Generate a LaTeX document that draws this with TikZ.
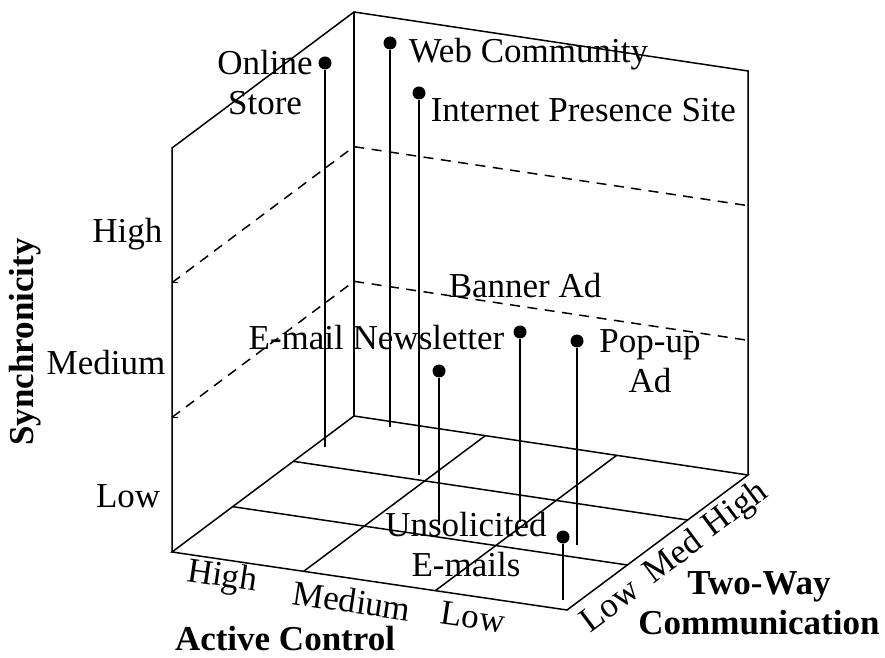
\documentclass[tikz,border=0pt]{standalone}
\usepackage{fontspec}
\setmainfont{Liberation Serif}
\usetikzlibrary{calc}
\begin{document}
\begin{tikzpicture}[x=0.4pt, y=-0.4pt, line width=0.6pt,
	every node/.style={font=\fontsize{14}{16}\selectfont, inner sep=0pt},
	pindot/.style={circle,fill,minimum size=5.2pt,inner sep=0pt},
	axistitle/.style={font=\fontsize{14}{16}\selectfont\bfseries, align=center}]
	\useasboundingbox (0,0) rectangle (885,658);
	% corners of the box (floor and top)
	\coordinate (A) at (172,552); \coordinate (B) at (567,610);
	\coordinate (C) at (748,475); \coordinate (D) at (354,416);
	\coordinate (At) at (172,148); \coordinate (Dt) at (354,12); \coordinate (Ct) at (748,71);
	\draw (A) -- (B) -- (C) -- (D) -- cycle;
	\draw (A) -- (At) -- (Dt) -- (Ct) -- (C);
	\draw (D) -- (Dt);
	% floor grid
	\foreach \t in {1/3,2/3} {
		\draw ($(A)!\t!(D)$) -- ($(B)!\t!(C)$);
		\draw ($(A)!\t!(B)$) -- ($(D)!\t!(C)$);
		\draw [dash pattern=on 4pt off 3pt] ($(A)!\t!(At)$) -- ($(D)!\t!(Dt)$) -- ($(C)!\t!(Ct)$);
		\draw ($(A)!\t!(At)$) -- ++(6,0);
	}
	% pins
	\foreach \name/\px/\by/\ty in {online/325/447/63, web/390/427/43, internet/419/475/93,
		newsletter/439/525/371, banner/520/522/332, popup/577/545/341, unsolicited/563/600/537} {
		\coordinate (\name base) at (\px,\by);
		\node [pindot] (\name dot) at (\px,\ty) {};
		\draw (\name base) -- (\name dot);
	}
	\node [align=center] (online label) at (265,83) {Online\\Store};
	\node [anchor=base west] (web label) at (408,63) {Web Community};
	\node [anchor=base west] (internet label) at (430,122) {Internet Presence Site};
	\node [anchor=base east] (newsletter label) at (505,350) {E-mail Newsletter};
	\node [anchor=base west] (banner label) at (448,298) {Banner Ad};
	\node [align=center] (popup label) at (650,361) {Pop-up\\Ad};
	\node [align=center] (unsolicited label) at (466,545) {Unsolicited\\E-mails};
	% synchronicity axis
	\node [anchor=base east] (sync high) at (163,243) {High};
	\node [anchor=base east] (sync med) at (166,375) {Medium};
	\node [anchor=base east] (sync low) at (161,507) {Low};
	\node [axistitle, rotate=90] (sync title) at (25,342) {Synchronicity};
	% active control axis
	\node [rotate=-8.4] (ac high) at (222,578) {High};
	\node [rotate=-8.4] (ac med) at (352,601) {Medium};
	\node [rotate=-8.4] (ac low) at (473,617) {Low};
	\node [axistitle] (ac title) at (285,639) {Active Control};
	% two-way communication axis
	\node [rotate=36.7] (tw low) at (609,605) {Low};
	\node [rotate=36.7] (tw med) at (672,556) {Med};
	\node [rotate=36.7] (tw high) at (736,510) {High};
	\node [axistitle] (tw title) at (759,603) {Two-Way\\Communication};
\end{tikzpicture}
\end{document}
